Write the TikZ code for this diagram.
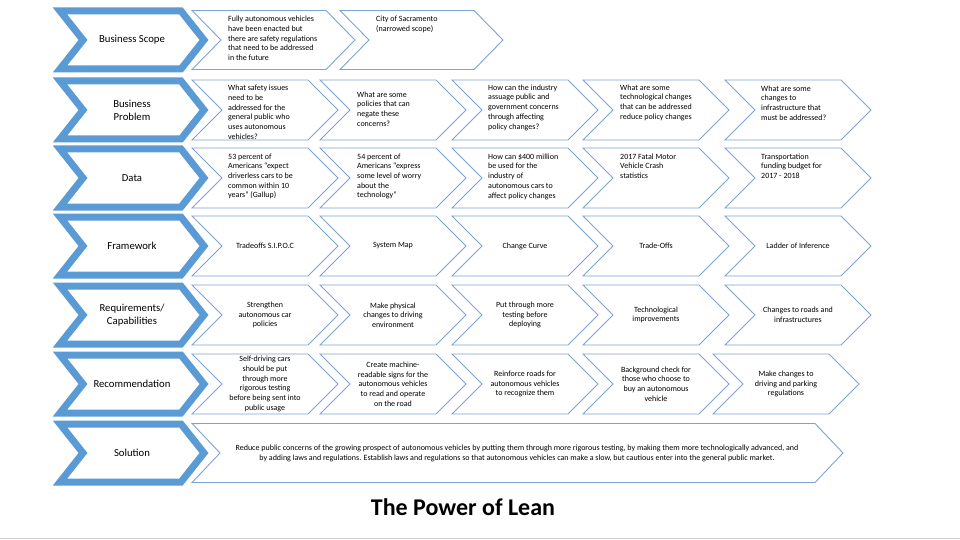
\documentclass[tikz,border=0pt]{standalone}
\usepackage{fontspec}
\setmainfont{Carlito}
\usepackage{tikz}
\usetikzlibrary{positioning}

\definecolor{stageblue}{RGB}{91,155,213}
\definecolor{boxblue}{RGB}{125,163,214}
\definecolor{rulegray}{RGB}{208,208,208}

% chevron outline: style, left x, mid y, length to tip, half height, point depth
\newcommand{\chevpath}[6]{%
  \draw[#1] (#2,#3-#5) -- (#2+#4-#6,#3-#5) -- (#2+#4,#3)
    -- (#2+#4-#6,#3+#5) -- (#2,#3+#5) -- (#2+#6,#3) -- cycle;}

\begin{document}
\begin{tikzpicture}[x=1pt, y=-1pt]
\tikzstyle{stage} = [draw=stageblue, line width=7pt, fill=white]
\tikzstyle{cell} = [draw=boxblue, line width=0.9pt]
\tikzstyle{stagetext} = [font=\fontsize{10.7}{13.2}\selectfont,
    align=center, inner sep=0pt]
\tikzstyle{celltext} = [font=\fontsize{8}{9.7}\selectfont,
    align=left, anchor=north west, inner sep=0pt]
\tikzstyle{midtext} = [font=\fontsize{8}{9.7}\selectfont,
    align=center, inner sep=0pt]

\fill[white] (0,0) rectangle (960,540);
\useasboundingbox (0,0) rectangle (960,540);
\draw[rulegray, line width=1pt] (0,538) -- (960,538);

% --- LEFT STAGE CHEVRONS ---
\foreach \yy/\nm/\lab in {40/scope/{Business Scope},
    110/problem/{Business\\Problem}, 178/data/{Data},
    246/framework/{Framework}, 315/reqs/{Requirements/\\Capabilities},
    384/recommend/{Recommendation}, 453/solution/{Solution}}{
  \chevpath{stage}{60}{\yy}{144}{29}{23}
  \node[stagetext] (\nm) at (132,\yy) {\lab};
}
% ---------------------------

% --- CELL OUTLINES ---
\chevpath{cell}{192}{40}{163}{29.5}{29}
\chevpath{cell}{340}{40}{163}{29.5}{29}
\foreach \yy in {110,178,246,315}
  \foreach \xx in {192,320,452,583,725}
    {\chevpath{cell}{\xx}{\yy}{146}{30}{30}}
\foreach \xx in {192,320,452,583,713}
  {\chevpath{cell}{\xx}{384}{146}{30}{30}}
\chevpath{cell}{192}{453}{651}{29.5}{28}
% ---------------------

% business scope
\node[celltext] (scopeA) at (228,16)
    {Fully autonomous vehicles\\have been enacted but\\there are safety regulations\\that need to be addressed\\in the future};
\node[celltext] (scopeB) at (376,16)
    {City of Sacramento\\(narrowed scope)};

% business problem
\node[celltext] (probA) at (228,85)
    {What safety issues\\need to be\\addressed for the\\general public who\\uses autonomous\\vehicles?};
\node[celltext] (probB) at (357,91.5)
    {What are some\\policies that can\\negate these\\concerns?};
\node[celltext] (probC) at (488,84.5)
    {How can the industry\\assuage public and\\government concerns\\through affecting\\policy changes?};
\node[celltext] (probD) at (620,84.5)
    {What are some\\technological changes\\that can be addressed\\reduce policy changes};
\node[celltext] (probE) at (761,85.5)
    {What are some\\changes to\\infrastructure that\\must be addressed?};

% data
\node[celltext] (dataA) at (228,153.5)
    {53 percent of\\Americans “expect\\driverless cars to be\\common within 10\\years” (Gallup)};
\node[celltext] (dataB) at (357,153.5)
    {54 percent of\\Americans “express\\some level of worry\\about the\\technology”};
\node[celltext] (dataC) at (488,153.5)
    {How can \$400 million\\be used for the\\industry of\\autonomous cars to\\affect policy changes};
\node[celltext] (dataD) at (620,153.5)
    {2017 Fatal Motor\\Vehicle Crash\\statistics};
\node[celltext] (dataE) at (761,153.5)
    {Transportation\\funding budget for\\2017 - 2018};

% framework
\node[midtext] (frameA) at (265,246) {Tradeoffs S.I.P.O.C};
\node[midtext] (frameB) at (393,246) {System Map};
\node[midtext] (frameC) at (525,246) {Change Curve};
\node[midtext] (frameD) at (656,246) {Trade-Offs};
\node[midtext] (frameE) at (798,246) {Ladder of Inference};

% requirements / capabilities
\node[midtext] (reqA) at (265,315) {Strengthen\\autonomous car\\policies};
\node[midtext] (reqB) at (393,315) {Make physical\\changes to driving\\environment};
\node[midtext] (reqC) at (525,315) {Put through more\\testing before\\deploying};
\node[midtext] (reqD) at (656,315) {Technological\\improvements};
\node[midtext] (reqE) at (798,315) {Changes to roads and\\infrastructures};

% recommendation
\node[midtext] (recA) at (265,384)
    {Self-driving cars\\should be put\\through more\\rigorous testing\\before being sent into\\public usage};
\node[midtext] (recB) at (393,384)
    {Create machine-\\readable signs for the\\autonomous vehicles\\to read and operate\\on the road};
\node[midtext] (recC) at (525,384)
    {Reinforce roads for\\autonomous vehicles\\to recognize them};
\node[midtext] (recD) at (656,384)
    {Background check for\\those who choose to\\buy an autonomous\\vehicle};
\node[midtext] (recE) at (786,384)
    {Make changes to\\driving and parking\\regulations};

% solution
\node[midtext, font=\fontsize{8}{10}\selectfont] (solText) at (517,453)
    {Reduce public concerns of the growing prospect of autonomous vehicles by putting them through more rigorous testing, by making them more technologically advanced, and\\by adding laws and regulations. Establish laws and regulations so that autonomous vehicles can make a slow, but cautious enter into the general public market.};

\node[font=\bfseries\fontsize{24}{28}\selectfont, inner sep=0pt] (title)
    at (463,507) {The Power of Lean};
\end{tikzpicture}
\end{document}
